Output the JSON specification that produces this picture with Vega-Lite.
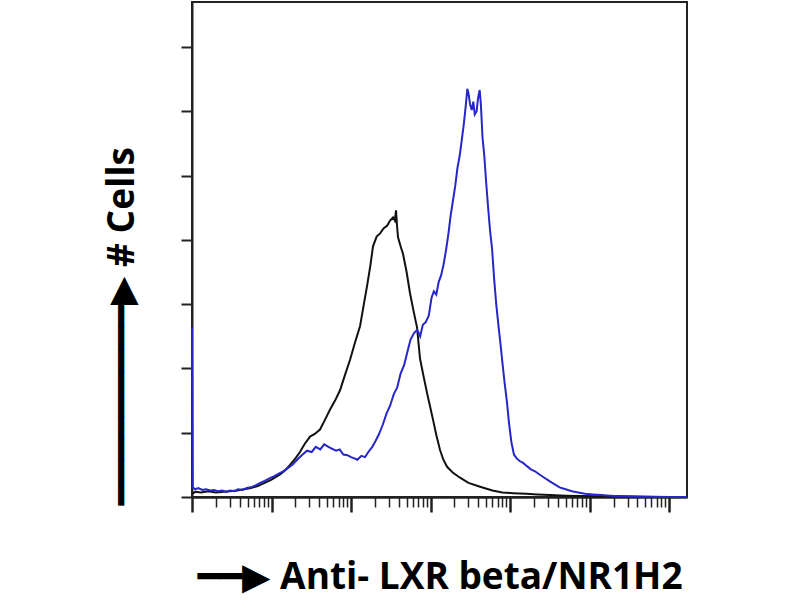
{
  "$schema": "https://vega.github.io/schema/vega-lite/v6.json",
  "width": 495,
  "height": 495,
  "autosize": {"type": "none"},
  "padding": {"left": 192, "top": 2, "right": 113, "bottom": 103},
  "background": "white",
  "config": {
    "view": {"stroke": "#222", "strokeWidth": 2},
    "axis": {"grid": false, "labels": false, "domainColor": "#222", "tickColor": "#222", "domainWidth": 2}
  },
  "datasets": {
    "control": [
      {"x": 1, "y": 0.05}, {"x": 1.1, "y": 0.08}, {"x": 1.3, "y": 0.07}, {"x": 1.6, "y": 0.09}, {"x": 2, "y": 0.07},
      {"x": 2.5, "y": 0.08}, {"x": 3, "y": 0.09}, {"x": 3.7, "y": 0.1}, {"x": 4.5, "y": 0.12}, {"x": 5.5, "y": 0.14},
      {"x": 6.7, "y": 0.17}, {"x": 8.2, "y": 0.22}, {"x": 10, "y": 0.27}, {"x": 12.8, "y": 0.35}, {"x": 15, "y": 0.42},
      {"x": 17.1, "y": 0.5}, {"x": 20, "y": 0.6}, {"x": 22.8, "y": 0.7}, {"x": 26, "y": 0.82}, {"x": 30.5, "y": 0.94},
      {"x": 35, "y": 0.98}, {"x": 40.7, "y": 1.05}, {"x": 47, "y": 1.2}, {"x": 54.5, "y": 1.36}, {"x": 63, "y": 1.5},
      {"x": 72.7, "y": 1.66}, {"x": 84, "y": 1.9}, {"x": 97, "y": 2.13}, {"x": 112, "y": 2.4}, {"x": 130, "y": 2.66},
      {"x": 145, "y": 3.0}, {"x": 159, "y": 3.28}, {"x": 175, "y": 3.6}, {"x": 189, "y": 3.9}, {"x": 210, "y": 4.05},
      {"x": 232, "y": 4.1}, {"x": 258, "y": 4.18}, {"x": 284, "y": 4.22}, {"x": 310, "y": 4.3}, {"x": 337, "y": 4.35},
      {"x": 355, "y": 4.3}, {"x": 368, "y": 4.46}, {"x": 380, "y": 4.2}, {"x": 390, "y": 4.04}, {"x": 420, "y": 3.9},
      {"x": 451, "y": 3.78}, {"x": 500, "y": 3.5}, {"x": 552, "y": 3.17}, {"x": 610, "y": 2.9}, {"x": 676, "y": 2.64},
      {"x": 738, "y": 2.15}, {"x": 810, "y": 1.9}, {"x": 903, "y": 1.62}, {"x": 990, "y": 1.4}, {"x": 1075, "y": 1.2},
      {"x": 1190, "y": 0.95}, {"x": 1316, "y": 0.73}, {"x": 1450, "y": 0.58}, {"x": 1614, "y": 0.47}, {"x": 1900, "y": 0.38},
      {"x": 2350, "y": 0.3}, {"x": 3000, "y": 0.22}, {"x": 4198, "y": 0.16}, {"x": 6000, "y": 0.1}, {"x": 8000, "y": 0.07},
      {"x": 10910, "y": 0.06}, {"x": 16000, "y": 0.05}, {"x": 22000, "y": 0.04}, {"x": 31840, "y": 0.03}, {"x": 50000, "y": 0.02},
      {"x": 80000, "y": 0.015}, {"x": 135500, "y": 0.01}, {"x": 250000, "y": 0.01}, {"x": 577000, "y": 0.005}, {"x": 1000000, "y": 0}
    ],
    "lxr": [
      {"x": 1, "y": 2.64}, {"x": 1.02, "y": 0.15}, {"x": 1.1, "y": 0.12}, {"x": 1.2, "y": 0.14}, {"x": 1.35, "y": 0.11},
      {"x": 1.5, "y": 0.12}, {"x": 1.7, "y": 0.1}, {"x": 1.9, "y": 0.11}, {"x": 2.1, "y": 0.09}, {"x": 2.4, "y": 0.1},
      {"x": 2.7, "y": 0.08}, {"x": 3.0, "y": 0.1}, {"x": 3.4, "y": 0.09}, {"x": 3.8, "y": 0.12}, {"x": 4.3, "y": 0.11},
      {"x": 4.9, "y": 0.14}, {"x": 5.5, "y": 0.15}, {"x": 6.3, "y": 0.18}, {"x": 7.2, "y": 0.22}, {"x": 8.2, "y": 0.25},
      {"x": 9.4, "y": 0.29}, {"x": 10.7, "y": 0.32}, {"x": 12.2, "y": 0.36}, {"x": 14, "y": 0.4}, {"x": 16, "y": 0.45},
      {"x": 18.3, "y": 0.5}, {"x": 21, "y": 0.58}, {"x": 24, "y": 0.65}, {"x": 28, "y": 0.72}, {"x": 32, "y": 0.7},
      {"x": 36, "y": 0.78}, {"x": 41, "y": 0.74}, {"x": 46, "y": 0.82}, {"x": 52, "y": 0.78}, {"x": 58, "y": 0.75},
      {"x": 65, "y": 0.72}, {"x": 72, "y": 0.74}, {"x": 80, "y": 0.66}, {"x": 90, "y": 0.65}, {"x": 100, "y": 0.62},
      {"x": 110, "y": 0.6}, {"x": 120, "y": 0.58}, {"x": 135, "y": 0.64}, {"x": 150, "y": 0.62}, {"x": 165, "y": 0.7},
      {"x": 185, "y": 0.78}, {"x": 205, "y": 0.88}, {"x": 225, "y": 0.98}, {"x": 250, "y": 1.12}, {"x": 280, "y": 1.3},
      {"x": 310, "y": 1.42}, {"x": 345, "y": 1.6}, {"x": 380, "y": 1.7}, {"x": 420, "y": 1.92}, {"x": 465, "y": 2.05},
      {"x": 510, "y": 2.25}, {"x": 560, "y": 2.45}, {"x": 620, "y": 2.55}, {"x": 680, "y": 2.6}, {"x": 740, "y": 2.5},
      {"x": 800, "y": 2.68}, {"x": 870, "y": 2.72}, {"x": 950, "y": 2.82}, {"x": 1030, "y": 3.1}, {"x": 1100, "y": 3.2},
      {"x": 1180, "y": 3.15}, {"x": 1270, "y": 3.35}, {"x": 1360, "y": 3.45}, {"x": 1460, "y": 3.62}, {"x": 1570, "y": 3.85},
      {"x": 1680, "y": 4.1}, {"x": 1800, "y": 4.4}, {"x": 1920, "y": 4.62}, {"x": 2050, "y": 4.85}, {"x": 2180, "y": 5.12},
      {"x": 2320, "y": 5.3}, {"x": 2470, "y": 5.55}, {"x": 2620, "y": 5.8}, {"x": 2780, "y": 6.1}, {"x": 2900, "y": 6.35},
      {"x": 3000, "y": 6.28}, {"x": 3150, "y": 6.1}, {"x": 3300, "y": 6.02}, {"x": 3450, "y": 6.15}, {"x": 3600, "y": 5.95},
      {"x": 3800, "y": 6.0}, {"x": 3950, "y": 6.2}, {"x": 4150, "y": 6.33}, {"x": 4300, "y": 6.1}, {"x": 4500, "y": 5.6},
      {"x": 4750, "y": 5.3}, {"x": 5000, "y": 4.9}, {"x": 5300, "y": 4.5}, {"x": 5600, "y": 4.15}, {"x": 5950, "y": 3.85},
      {"x": 6300, "y": 3.4}, {"x": 6700, "y": 3.0}, {"x": 7100, "y": 2.7}, {"x": 7550, "y": 2.4}, {"x": 8000, "y": 2.1},
      {"x": 8500, "y": 1.8}, {"x": 9100, "y": 1.5}, {"x": 9700, "y": 1.15}, {"x": 10400, "y": 0.85}, {"x": 11200, "y": 0.66},
      {"x": 12100, "y": 0.6}, {"x": 13200, "y": 0.56}, {"x": 14600, "y": 0.53}, {"x": 16300, "y": 0.48}, {"x": 18300, "y": 0.43},
      {"x": 20600, "y": 0.4}, {"x": 23500, "y": 0.35}, {"x": 27000, "y": 0.3}, {"x": 31000, "y": 0.25}, {"x": 36000, "y": 0.2},
      {"x": 42000, "y": 0.15}, {"x": 50000, "y": 0.12}, {"x": 60000, "y": 0.09}, {"x": 72000, "y": 0.07}, {"x": 88000, "y": 0.05},
      {"x": 110000, "y": 0.04}, {"x": 140000, "y": 0.03}, {"x": 180000, "y": 0.02}, {"x": 250000, "y": 0.01}, {"x": 400000, "y": 0.005},
      {"x": 700000, "y": 0}, {"x": 1200000, "y": 0}, {"x": 1680000, "y": 0}
    ]
  },
  "encoding": {
    "y": {
      "field": "y",
      "type": "quantitative",
      "scale": {"domain": [0, 7.7], "nice": false, "zero": true},
      "axis": {
        "values": [0, 1, 2, 3, 4, 5, 6, 7],
        "tickSize": 11,
        "tickWidth": 2,
        "title": "━━━━━━━━━▶ # Cells",
        "titleFont": "Open Sans, DejaVu Sans",
        "titleFontSize": 37,
        "titleFontWeight": "bold",
        "titleColor": "black",
        "titleAngle": 270,
        "titleAlign": "left",
        "titleBaseline": "alphabetic",
        "titleX": -59,
        "titleY": 503
      }
    }
  },
  "layer": [
    {
      "data": {"name": "control"},
      "mark": {"type": "line", "color": "#111111", "strokeWidth": 2},
      "encoding": {
        "x": {
          "field": "x",
          "type": "quantitative",
          "scale": {"type": "log", "domain": [1, 1680000], "nice": false},
          "axis": {
            "orient": "bottom",
            "values": [1, 10, 100, 1000, 10000, 100000, 1000000],
            "tickSize": 15,
            "tickWidth": 2.5,
            "title": "━━▶  Anti- LXR beta/NR1H2",
            "titleFont": "Open Sans, DejaVu Sans",
            "titleFontSize": 37,
            "titleFontWeight": "bold",
            "titleColor": "black",
            "titleBaseline": "alphabetic",
            "titleY": 91
          }
        }
      }
    },
    {
      "data": {"name": "lxr"},
      "mark": {"type": "line", "color": "#2626c9", "strokeWidth": 2},
      "encoding": {
        "x": {
          "field": "x",
          "type": "quantitative",
          "scale": {"type": "log", "domain": [1, 1680000], "nice": false},
          "axis": {
            "orient": "bottom",
            "values": [2, 3, 4, 5, 6, 7, 8, 9, 20, 30, 40, 50, 60, 70, 80, 90, 200, 300, 400, 500, 600, 700, 800, 900, 2000, 3000, 4000, 5000, 6000, 7000, 8000, 9000, 20000, 30000, 40000, 50000, 60000, 70000, 80000, 90000, 200000, 300000, 400000, 500000, 600000, 700000, 800000, 900000],
            "tickSize": 10,
            "tickWidth": 1.5,
            "title": null
          }
        }
      }
    }
  ],
  "resolve": {"axis": {"x": "independent"}}
}
